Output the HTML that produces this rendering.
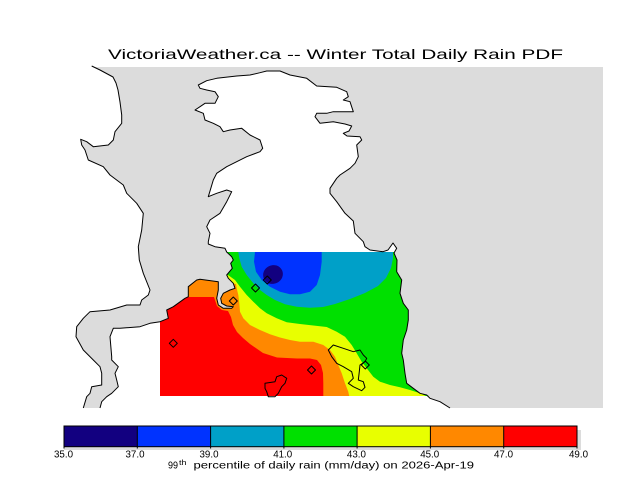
<!DOCTYPE html>
<html><head><meta charset="utf-8"><style>
html,body{margin:0;padding:0;background:#fff;}
svg{display:block;}
text{font-family:"Liberation Sans",sans-serif;fill:#000;}
</style></head><body>
<svg width="640" height="480" viewBox="0 0 640 480" xmlns="http://www.w3.org/2000/svg">
<rect x="0" y="0" width="640" height="480" fill="#fff"/>
<!-- land background -->
<rect x="70" y="67" width="533" height="341" fill="#dcdcdc"/>
<!-- west water -->
<path fill="#fff" d="M0,60 L91.7,66 L100,70 L113,77 L116,83 L118,90 L120,102 L121.7,115 L121.7,123.3 L115,131.7 L113.3,140 L108.3,145 L93.3,146.7 L86.7,141.7 L80.7,139.3 L81.7,145 L85,150 L88.3,160 L103.3,166.7 L110,175 L123.3,185 L126.7,193.3 L136.7,203.3 L143.3,213.3 L141.7,230 L138.3,246.7 L139.3,260 L143.3,273.3 L150,290 L148.3,295 L141.7,300 L140,305 L126.7,305 L110,310 L90,311.7 L83.3,318.3 L76.7,326.7 L76,336.7 L83.3,350 L93.3,360 L100,366.7 L101.7,373.3 L101.7,385 L91.7,386.7 L90,393.3 L86.7,396.7 L83.3,408 L0,408 Z"/>
<!-- central water -->
<path fill="#fff" d="M226.7,252 L225,248.3 L215,246.7 L208.3,244 L208.3,241.7 L210,233.3 L206.7,226.7 L210,220 L220,213.3 L226.7,201.7 L231.7,191.7 L226.7,190 L216.7,193.3 L208.3,196.7 L213.3,180 L216.7,173.3 L226.7,166.7 L246.7,156.7 L260,151.7 L262.7,148.3 L260,140 L250,135 L241.7,128.3 L230,130 L223.3,131.7 L220,126.7 L213.3,123.3 L205,120 L203.3,113.3 L195,110 L200,106.7 L205,103.3 L215,103.3 L218.3,96.7 L215,91.7 L206.7,90 L200,88.3 L198.3,85 L206.7,80.7 L216.7,78.3 L236.7,76 L250,75 L260,72.7 L266.7,71 L280,71 L290,75 L306.7,78.3 L316.7,86 L336.7,87.3 L346.7,91.7 L348.3,96.7 L343.3,100 L350,101.7 L353.3,111.7 L346.7,111.7 L333.3,111.7 L326.7,113.3 L316.7,113.3 L315,116.7 L320,123.3 L333.3,121.7 L345,124 L351.7,126 L349,131 L343.3,133.3 L347,136 L360,136.7 L361.7,140 L356.7,145 L358.3,156.7 L355,163.3 L350,168.3 L340,175 L336.7,178.3 L330,188.3 L330,193.3 L336.7,201.7 L345,213.3 L353.3,221 L355,233.3 L363.3,241.7 L365,246.7 L370,250 L383,251.7 L388,250 L393,243 L396.7,248.3 L394,252 Z"/>
<!-- south water -->
<path fill="#fff" d="M160,321.7 L150,323.3 L140,326.7 L120,328.3 L113.3,328.3 L110,336.7 L111.7,356.7 L111.7,360 L118.3,366.7 L115,373.3 L116.7,380 L118.3,386.7 L111.7,393.3 L106.7,396.7 L101.7,401.7 L100,408 L450,408 L440,401.7 L430,398.3 L426.7,396 L160,396 Z"/>
<defs>
<clipPath id="dat"><path d="M226.7,252 L394,252 L394,253 L397,260 L396.7,271.7 L401.7,280 L400,293.3 L403.3,303.3 L408.3,310 L408.3,320 L406.7,330 L403.3,340 L401.7,353.3 L403.3,360 L405,373.3 L406.7,383.3 L413.3,388.3 L420,393.3 L426.7,395 L429,396 L160,396 L160,321.7 L168.3,318.3 L166.7,310 L173.3,306.7 L185,298.3 L188.3,296.7 L188.3,286.7 L196.7,280 L200,279.3 L218.3,281.7 L218.3,290 L216.7,298.3 L218.3,305 L223.3,308.3 L231.7,308.3 L233.3,306.7 L226.7,306 L221.7,303.3 L220.7,298.3 L223.3,293.3 L230,290 L235,288.3 L233.3,283.3 L228.3,278.3 L226.7,275 L232.3,268.3 L230.7,263.3 L233.3,260 L231.7,256.7 Z"/></clipPath>
</defs>
<g clip-path="url(#dat)">
<rect x="150" y="245" width="300" height="160" fill="#00e000"/>
<path fill="#e8ff00" d="M150,260 L222,272 L228,275 L235,280 L240,286.7 L246.7,295 L253.3,301.7 L260,308.3 L266.7,313.3 L276.7,318.3 L286.7,322.3 L300,324 L313.3,325.5 L326.7,327 L336.7,331.7 L345,336.7 L351.7,345 L356.7,353.3 L361.7,361.7 L366.7,368.3 L373.3,376.7 L380,381.7 L390,385 L400,387.3 L410,390 L420,393.3 L428,397 L430,400 L150,400 Z"/>
<path fill="#ff8800" d="M150,270 L236,284 L236.7,288.3 L238.3,295 L239.3,303.3 L240,311.7 L243.3,318.3 L250,325 L260,330 L270,334.3 L280,337.5 L290,340 L300,341.7 L313.3,341.7 L323.3,345 L330,350 L335,356.7 L338.3,365 L341.7,373.3 L345,383.3 L348.3,391.7 L350,400 L150,400 Z"/>
<path fill="#ff0000" d="M150,297 L214,297 L217,306 L222,310 L228,311 L231,317 L233,325 L237,332 L243,338 L250,344 L263,353 L277,357.5 L297,358.5 L310,358.5 L317,360 L321,365 L323,373 L323.3,383 L323.3,400 L150,400 Z"/>
<path fill="#00a0c8" d="M237,246 L238.3,252 L239.3,258.3 L241.7,266.7 L246.7,275 L253.3,283.3 L260,290 L266.7,295 L275,300 L285,304.3 L296.7,306.7 L310,307.7 L323,307 L335,304 L350,299 L365,293 L378,286 L386,278 L391,268 L393,258 L393,246 Z"/>
<path fill="#0033ff" d="M255,246 L255,251.7 L254,261.7 L256,271.7 L261.7,280 L270,286.7 L280,291.7 L290,294.3 L300,294.3 L310,291.7 L316.7,285 L320,275 L321.7,261.7 L321.7,246 Z"/>
<ellipse cx="273" cy="274.5" rx="10" ry="9.3" transform="rotate(-25 273 274.5)" fill="#120080"/>
</g>
<!-- coastlines -->
<g fill="none" stroke="#000" stroke-width="1" stroke-linejoin="round">
<path d="M91.7,66 L100,70 L113,77 L116,83 L118,90 L120,102 L121.7,115 L121.7,123.3 L115,131.7 L113.3,140 L108.3,145 L93.3,146.7 L86.7,141.7 L80.7,139.3 L81.7,145 L85,150 L88.3,160 L103.3,166.7 L110,175 L123.3,185 L126.7,193.3 L136.7,203.3 L143.3,213.3 L141.7,230 L138.3,246.7 L139.3,260 L143.3,273.3 L150,290 L148.3,295 L141.7,300 L140,305 L126.7,305 L110,310 L90,311.7 L83.3,318.3 L76.7,326.7 L76,336.7 L83.3,350 L93.3,360 L100,366.7 L101.7,373.3 L101.7,385 L91.7,386.7 L90,393.3 L86.7,396.7 L83.3,408"/>
<path d="M100,408 L101.7,401.7 L106.7,396.7 L111.7,393.3 L118.3,386.7 L116.7,380 L115,373.3 L118.3,366.7 L111.7,360 L111.7,356.7 L110,336.7 L113.3,328.3 L120,328.3 L140,326.7 L150,323.3 L160,321.7 L168.3,318.3 L166.7,310 L173.3,306.7 L185,298.3 L188.3,296.7 L188.3,286.7 L196.7,280 L200,279.3 L218.3,281.7 L218.3,290 L216.7,298.3 L218.3,305 L223.3,308.3 L231.7,308.3 L233.3,306.7 L226.7,306 L221.7,303.3 L220.7,298.3 L223.3,293.3 L230,290 L235,288.3 L233.3,283.3 L228.3,278.3 L226.7,275 L232.3,268.3 L230.7,263.3 L233.3,260 L231.7,256.7 L226.7,252 L225,248.3 L215,246.7 L208.3,244 L208.3,241.7 L210,233.3 L206.7,226.7 L210,220 L220,213.3 L226.7,201.7 L231.7,191.7 L226.7,190 L216.7,193.3 L208.3,196.7 L213.3,180 L216.7,173.3 L226.7,166.7 L246.7,156.7 L260,151.7 L262.7,148.3 L260,140 L250,135 L241.7,128.3 L230,130 L223.3,131.7 L220,126.7 L213.3,123.3 L205,120 L203.3,113.3 L195,110 L200,106.7 L205,103.3 L215,103.3 L218.3,96.7 L215,91.7 L206.7,90 L200,88.3 L198.3,85 L206.7,80.7 L216.7,78.3 L236.7,76 L250,75 L260,72.7 L266.7,71 L280,71 L290,75 L306.7,78.3 L316.7,86 L336.7,87.3 L346.7,91.7 L348.3,96.7 L343.3,100 L350,101.7 L353.3,111.7 L346.7,111.7 L333.3,111.7 L326.7,113.3 L316.7,113.3 L315,116.7 L320,123.3 L333.3,121.7 L345,124 L351.7,126 L349,131 L343.3,133.3 L347,136 L360,136.7 L361.7,140 L356.7,145 L358.3,156.7 L355,163.3 L350,168.3 L340,175 L336.7,178.3 L330,188.3 L330,193.3 L336.7,201.7 L345,213.3 L353.3,221 L355,233.3 L363.3,241.7 L365,246.7 L370,250 L383,251.7 L388,250 L393,243 L396.7,248.3 L394,253 L397,260 L396.7,271.7 L401.7,280 L400,293.3 L403.3,303.3 L408.3,310 L408.3,320 L406.7,330 L403.3,340 L401.7,353.3 L403.3,360 L405,373.3 L406.7,383.3 L413.3,388.3 L420,393.3 L426.7,395 L430,398.3 L440,401.7 L450,408"/>
<!-- islands -->
<path d="M265,383.3 L275,381.7 L276.7,376.7 L281.7,375 L286.7,378.3 L285,383.3 L281.7,386.7 L278.3,393.3 L275,396.7 L268.3,396.7 L266.7,391.7 L265,388.3 Z"/>
<path d="M333.3,345 L328.3,350 L331.7,356.7 L336.7,363.3 L343.3,366.7 L351.7,371.7 L353.3,378.3 L348.3,383.3 L353.3,386.7 L361.7,390.7 L365,387.3 L363.3,381.7 L358.3,380 L359.3,371.7 L360,365 L365,361.7 L366.7,358.3 L363.3,355 L360,350 L353.3,351.7 L343.3,348.3 Z"/>
<!-- station markers -->
<path d="M173.3,339.3 L177.3,343.3 L173.3,347.3 L169.3,343.3 Z"/>
<path d="M233.3,297 L237.3,301 L233.3,305 L229.3,301 Z"/>
<path d="M255.5,284 L259.5,288 L255.5,292 L251.5,288 Z"/>
<path d="M267.3,276 L271.3,280 L267.3,284 L263.3,280 Z"/>
<path d="M311.5,366 L315.5,370 L311.5,374 L307.5,370 Z"/>
<path d="M365.3,361 L369.3,365 L365.3,369 L361.3,365 Z"/>
</g>
<!-- title -->
<text x="108" y="59" font-size="14" textLength="455" lengthAdjust="spacingAndGlyphs">VictoriaWeather.ca -- Winter Total Daily Rain PDF</text>
<!-- colorbar -->
<rect x="64" y="430" width="517" height="20" fill="#dcdcdc"/>
<rect x="64" y="426" width="73.3" height="20.7" fill="#120080"/>
<rect x="137.3" y="426" width="73.3" height="20.7" fill="#0033ff"/>
<rect x="210.6" y="426" width="73.3" height="20.7" fill="#00a0c8"/>
<rect x="283.9" y="426" width="73.3" height="20.7" fill="#00e000"/>
<rect x="357.1" y="426" width="73.3" height="20.7" fill="#e8ff00"/>
<rect x="430.4" y="426" width="73.3" height="20.7" fill="#ff8800"/>
<rect x="503.7" y="426" width="73.3" height="20.7" fill="#ff0000"/>
<g stroke="#000" stroke-width="1" fill="none">
<rect x="64" y="426" width="513" height="20.7"/>
<line x1="64" y1="426" x2="64" y2="448.5"/>
<line x1="137.3" y1="426" x2="137.3" y2="448.5"/>
<line x1="210.6" y1="426" x2="210.6" y2="448.5"/>
<line x1="283.9" y1="426" x2="283.9" y2="448.5"/>
<line x1="357.1" y1="426" x2="357.1" y2="448.5"/>
<line x1="430.4" y1="426" x2="430.4" y2="448.5"/>
<line x1="503.7" y1="426" x2="503.7" y2="448.5"/>
<line x1="577" y1="426" x2="577" y2="448.5"/>
</g>
<g font-size="10" text-anchor="middle">
<text x="63.5" y="457.5" textLength="19" lengthAdjust="spacingAndGlyphs">35.0</text>
<text x="135" y="457.5" textLength="19" lengthAdjust="spacingAndGlyphs">37.0</text>
<text x="209" y="457.5" textLength="19" lengthAdjust="spacingAndGlyphs">39.0</text>
<text x="282.7" y="457.5" textLength="19" lengthAdjust="spacingAndGlyphs">41.0</text>
<text x="356.4" y="457.5" textLength="19" lengthAdjust="spacingAndGlyphs">43.0</text>
<text x="429.7" y="457.5" textLength="19" lengthAdjust="spacingAndGlyphs">45.0</text>
<text x="503.5" y="457.5" textLength="19" lengthAdjust="spacingAndGlyphs">47.0</text>
<text x="578.5" y="457.5" textLength="19" lengthAdjust="spacingAndGlyphs">49.0</text>
</g>
<text x="168" y="468.5" font-size="10" textLength="10" lengthAdjust="spacingAndGlyphs">99</text>
<text x="179" y="465" font-size="7.5" textLength="7.5" lengthAdjust="spacingAndGlyphs">th</text>
<text x="193.5" y="468.5" font-size="10" textLength="280.5" lengthAdjust="spacingAndGlyphs">percentile of daily rain (mm/day) on 2026-Apr-19</text>
</svg>
</body></html>
